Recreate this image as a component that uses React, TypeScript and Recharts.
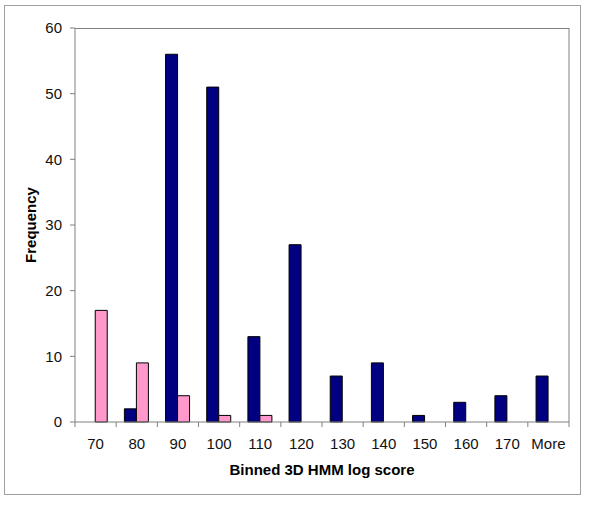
import React from 'react';
import { BarChart, Bar, XAxis, YAxis, CartesianGrid } from 'recharts';

const categories = ['70', '80', '90', '100', '110', '120', '130', '140', '150', '160', '170', 'More'];
const seriesNavy = [0, 2, 56, 51, 13, 27, 7, 9, 1, 3, 4, 7];
const seriesPink = [17, 9, 4, 1, 1, 0, 0, 0, 0, 0, 0, 0];
const yTicks = [0, 10, 20, 30, 40, 50, 60];
const yMax = 60;

const data = categories.map((c, i) => ({ bin: c, navy: seriesNavy[i], pink: seriesPink[i] }));

const FONT = '"Liberation Sans", Arial, sans-serif';
const AXIS = '#808080';

const CatTick = (props: any) => {
  const { x, y, payload, index, visibleTicksCount } = props;
  const half = payload.offset || 0;
  return (
    <g>
      <line x1={x - half} x2={x - half} y1={y} y2={y + 5} stroke={AXIS} />
      {index === visibleTicksCount - 1 && (
        <line x1={x + half} x2={x + half} y1={y} y2={y + 5} stroke={AXIS} />
      )}
      <text x={x} y={y + 21} textAnchor="middle" dominantBaseline="central" fontFamily={FONT} fontSize={15} fill="#111">
        {payload.value}
      </text>
    </g>
  );
};

export default function App() {
  return (
    <div style={{ position: 'absolute', left: 0, top: 0, width: 600, height: 530, background: '#fff' }}>
      <div style={{ position: 'absolute', left: 4, top: 5, width: 575, height: 488, border: '1px solid #a0a0a0' }} />
      <div style={{ position: 'absolute', left: 0, top: 0 }}>
        <BarChart
          width={600}
          height={530}
          data={data}
          margin={{ top: 28, right: 30, bottom: 48, left: 15 }}
          barCategoryGap="20%"
          barGap={0}
        >
          <CartesianGrid
            xAxisId="cat"
            yAxisId="left"
            vertical={false}
            horizontal
            stroke={AXIS}
            strokeWidth={1}
            horizontalCoordinatesGenerator={(p: any) => [p.offset.top + 0.5]}
          />
          <XAxis
            xAxisId="cat"
            dataKey="bin"
            height={60}
            tickSize={0}
            tickMargin={0}
            tickLine={false}
            axisLine={{ stroke: AXIS }}
            tick={<CatTick />}
            interval={0}
            label={{
              content: (p: any) => {
                const vb = p.viewBox;
                return (
                  <text x={vb.x + vb.width / 2} y={vb.y + 47} textAnchor="middle" dominantBaseline="central" fontFamily={FONT} fontSize={15} fontWeight="bold" fill="#000">
                    Binned 3D HMM log score
                  </text>
                );
              },
            }}
          />
          <YAxis
            yAxisId="left"
            width={60}
            domain={[0, yMax]}
            ticks={yTicks}
            tickSize={5}
            tickMargin={8}
            tickLine={{ stroke: AXIS }}
            axisLine={{ stroke: AXIS }}
            tick={{ fontFamily: FONT, fontSize: 15, fill: '#111' }}
            label={{
              content: (p: any) => {
                const vb = p.viewBox;
                const cx = vb.x + 15;
                const cy = vb.y + vb.height / 2;
                return (
                  <text x={cx} y={cy} transform={`rotate(-90 ${cx} ${cy})`} textAnchor="middle" dominantBaseline="central" fontFamily={FONT} fontSize={15} fontWeight="bold" fill="#000">
                    Frequency
                  </text>
                );
              },
            }}
          />
          <YAxis yAxisId="right" orientation="right" width={1} domain={[0, yMax]} tick={false} tickLine={false} axisLine={{ stroke: AXIS }} />
          <Bar xAxisId="cat" yAxisId="left" dataKey="navy" fill="#000080" stroke="#000" strokeWidth={1} isAnimationActive={false} />
          <Bar xAxisId="cat" yAxisId="left" dataKey="pink" fill="#FF99CC" stroke="#000" strokeWidth={1} isAnimationActive={false} />
        </BarChart>
      </div>
    </div>
  );
}
